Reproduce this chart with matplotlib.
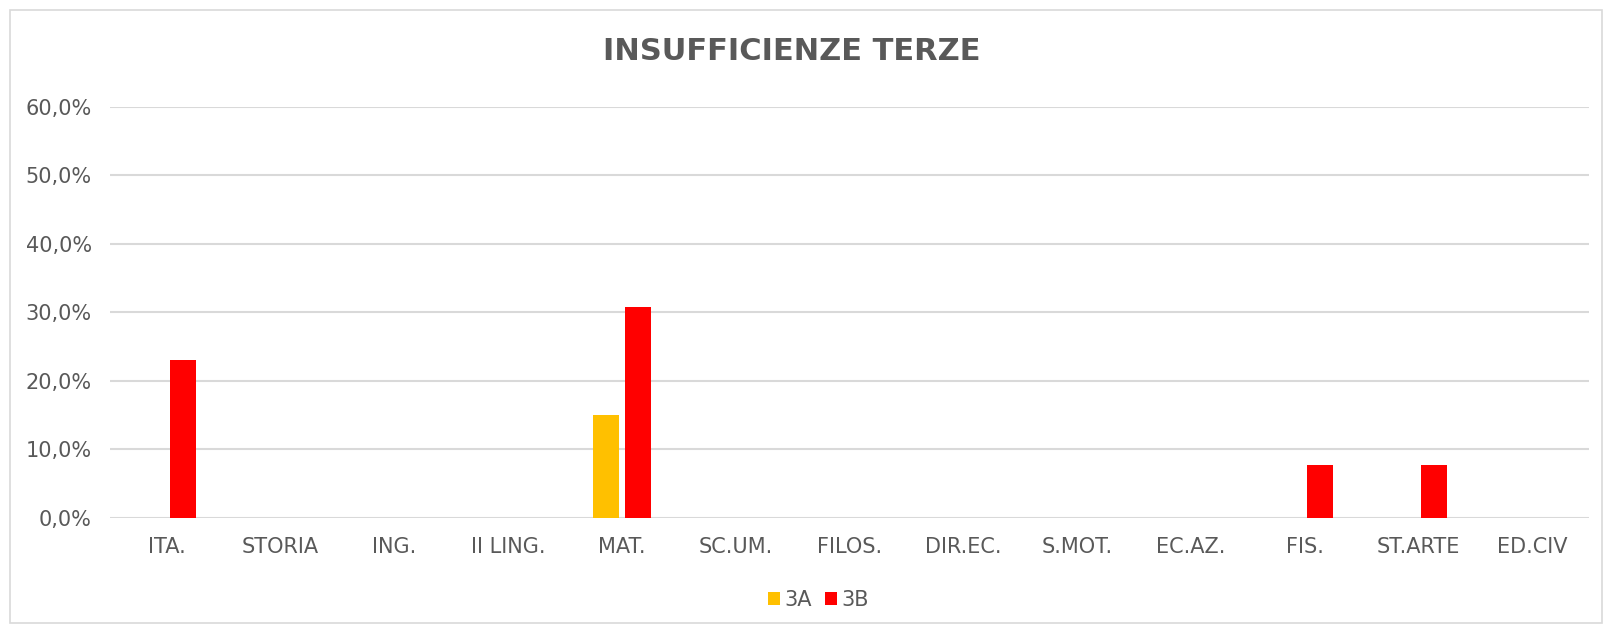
import matplotlib
matplotlib.use("Agg")
from matplotlib import pyplot as plt
from matplotlib.patches import Rectangle
from matplotlib.ticker import FuncFormatter
import numpy as np

plt.rcParams['font.family'] = ['DejaVu Sans']

materie = ["ITA.", "STORIA", "ING.", "II LING.", "MAT.", "SC.UM.", "FILOS.",
           "DIR.EC.", "S.MOT.", "EC.AZ.", "FIS.", "ST.ARTE", "ED.CIV"]
val_3a = [0, 0, 0, 0, 0.15, 0, 0, 0, 0, 0, 0, 0, 0]
val_3b = [0.2308, 0, 0, 0, 0.3077, 0, 0, 0, 0, 0, 0.0769, 0.0769, 0]

grigio = "#595959"

fig = plt.figure(figsize=(16.12, 6.33), dpi=100)
ax = fig.add_axes([0.0682, 0.1821, 0.9175, 0.6493])

x = np.arange(len(materie))
w = 0.228
ax.bar(x - 0.14, val_3a, w, color="#ffc000", label="3A", zorder=3)
ax.bar(x + 0.14, val_3b, w, color="#ff0000", label="3B", zorder=3)

ax.set_xlim(-0.5, len(materie) - 0.5)
ax.set_ylim(0, 0.6)
ax.set_yticks(np.arange(0, 0.61, 0.1))
ax.yaxis.set_major_formatter(FuncFormatter(lambda v, p: "{:.1f}%".format(v * 100).replace(".", ",")))
ax.set_xticks(x)
ax.set_xticklabels(materie)
ax.tick_params(length=0, labelsize=15, colors=grigio)
ax.tick_params(axis="y", pad=13)
ax.tick_params(axis="x", pad=14)
ax.grid(axis="y", color="#d9d9d9", linewidth=1.5, zorder=0)
for s in ax.spines.values():
    s.set_visible(False)

fig.text(0.4913, 0.918, "INSUFFICIENZE TERZE", ha="center", va="center",
         fontsize=22, fontweight="bold", color=grigio)

ax.legend(loc="center", bbox_to_anchor=(0.479, -0.2), ncol=2, frameon=False,
          fontsize=15, labelcolor=grigio, handlelength=0.6, handleheight=0.6,
          handletextpad=0.2, columnspacing=0.6)

fig.patches.append(Rectangle((10 / 1612, 10 / 633), 1592 / 1612, 613 / 633,
                             transform=fig.transFigure, fill=False,
                             edgecolor="#d9d9d9", linewidth=1.2))

fig.savefig("out.png", dpi=100)
